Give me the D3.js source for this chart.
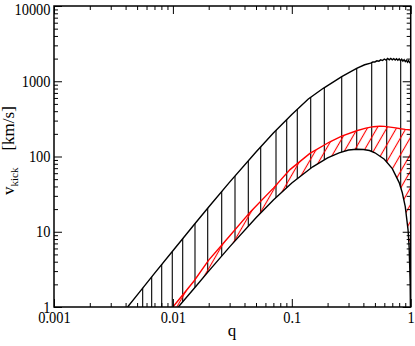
<!DOCTYPE html>
<html>
<head>
<meta charset="utf-8">
<script src="https://cdn.jsdelivr.net/npm/d3@7"></script>
<style>
  body { margin: 0; background: #fff; }
  svg { display: block; font-family: "Liberation Serif", "DejaVu Serif", serif; }
</style>
</head>
<body>
<svg id="chart" width="415" height="346"></svg>
<script>
// upper black curve (max kick)
const upperQ = [0.00416, 0.005, 0.007, 0.01, 0.015, 0.02, 0.03, 0.05, 0.07, 0.1, 0.1377, 0.184, 0.263, 0.351, 0.41,
  0.46, 0.48, 0.50, 0.52, 0.54, 0.56, 0.58, 0.60, 0.62, 0.64, 0.66, 0.68, 0.70, 0.72, 0.74, 0.76, 0.78,
  0.80, 0.82, 0.84, 0.86, 0.88, 0.90, 0.92, 0.94, 0.96, 0.98, 1.00];
const upperV = [1.0, 1.44, 2.8, 5.6, 12.3, 21.3, 45.7, 115, 205, 362, 581, 806, 1150, 1486, 1657,
  1745, 1800, 1805, 1870, 1850, 1925, 1885, 1975, 1915, 2005, 1925, 2010, 1930, 2000, 1915, 1995, 1900,
  1985, 1875, 1960, 1850, 1935, 1825, 1905, 1790, 1880, 1770, 1800];

// red curve
const redQ = [0.0100, 0.015, 0.02, 0.03, 0.045, 0.07, 0.0966, 0.142, 0.2094, 0.2629, 0.351, 0.42, 0.484, 0.55, 0.6, 0.67, 0.75, 0.82, 0.9, 1.0];
const redV = [1.0, 2.2, 4.2, 8.8, 18.5, 38, 67, 110, 157, 187, 220, 238, 249, 252, 251, 246, 240, 234, 229, 225];

// lower black curve (non-spinning kick)
const lowerQ = [0.0111, 0.015, 0.02, 0.03, 0.05, 0.07, 0.1, 0.15, 0.2, 0.25, 0.3, 0.35, 0.4, 0.45, 0.5, 0.6, 0.7, 0.8, 0.85, 0.9, 0.95, 0.97, 0.99, 0.995, 1.0];
const lowerV = [1.0, 1.75, 3.0, 6.3, 15.3, 26.4, 44.4, 73, 96, 112, 122, 125, 124, 120, 112, 92, 69, 45, 33, 21.6, 10.6, 6.3, 2.1, 1.04, 0.3];

// vertical hatch positions
const hatchQ = [0.00557, 0.00663, 0.00805, 0.00988, 0.01209, 0.01534, 0.01962, 0.02573, 0.03329, 0.04307, 0.05475,
  0.07365, 0.09061, 0.1112, 0.1442, 0.1877, 0.2629, 0.3515, 0.4699, 0.6284, 0.824];

const xTickVals = [0.001, 0.01, 0.1, 1];
const xTickLabels = ["0.001", "0.01", "0.1", "1"];
const yTickVals = [1, 10, 100, 1000, 10000];
const yTickLabels = ["1", "10", "100", "1000", "10000"];

const serif = "'Liberation Serif', 'DejaVu Serif', serif";
const svg = d3.select("#chart");
const x = d3.scaleLog().domain([0.001, 1]).range([54, 410.7]);
const y = d3.scaleLog().domain([1, 10000]).range([307, 6]).clamp(true);

const pts = (qs, vs) => qs.map((q, i) => [q, vs[i]]);
const upper = pts(upperQ, upperV);
const red = pts(redQ, redV);
const lower = pts(lowerQ, lowerV);
const line = d3.line().x(d => x(d[0])).y(d => y(d[1]));

const defs = svg.append("defs");
defs.append("clipPath").attr("id", "plotClip").append("rect")
  .attr("x", x(0.001)).attr("y", y(10000))
  .attr("width", x(1) - x(0.001)).attr("height", y(1) - y(10000));
defs.append("clipPath").attr("id", "bandClip").append("path")
  .attr("d", line(upper.concat(lower.slice().reverse())) + "Z");

const pat = defs.append("pattern").attr("id", "redHatch")
  .attr("patternUnits", "userSpaceOnUse")
  .attr("width", 8.4).attr("height", 8.4)
  .attr("patternTransform", "rotate(30)");
pat.append("line").attr("x1", 4.2).attr("x2", 4.2).attr("y1", -1).attr("y2", 9.4)
  .attr("stroke", "#ff0000").attr("stroke-width", 1.1);

const plot = svg.append("g").attr("clip-path", "url(#plotClip)");

// vertical hatch between the black curves
plot.append("g").attr("clip-path", "url(#bandClip)")
  .selectAll("line").data(hatchQ).join("line")
  .attr("x1", d => x(d)).attr("x2", d => x(d))
  .attr("y1", y(10000)).attr("y2", y(1))
  .attr("stroke", "#000").attr("stroke-width", 1.1);

// red hatched region
plot.append("path")
  .attr("d", line(red.concat(lower.slice().reverse())) + "Z")
  .attr("fill", "url(#redHatch)").attr("stroke", "none");

// curves
plot.append("path").datum(upper).attr("d", line)
  .attr("fill", "none").attr("stroke", "#000").attr("stroke-width", 1.4);
plot.append("path").datum(red).attr("d", line)
  .attr("fill", "none").attr("stroke", "#ff0000").attr("stroke-width", 1.4);
plot.append("path").datum(lower).attr("d", line)
  .attr("fill", "none").attr("stroke", "#000").attr("stroke-width", 1.4);

// axes (ticks inside)
const isMajor = t => Math.abs(Math.log10(t) - Math.round(Math.log10(t))) < 1e-6;
const xMinor = x.ticks().filter(t => !isMajor(t));
const yMinor = y.ticks().filter(t => !isMajor(t));

function styleAxis(g) {
  g.attr("font-family", null).attr("font-size", null)
    .style("font-family", serif).style("font-size", "16px");
  g.select(".domain").remove();
}

svg.append("g").attr("transform", `translate(0,${y(1)})`)
  .call(d3.axisBottom(x).tickValues(xMinor).tickSizeInner(-4).tickSizeOuter(0).tickFormat(""))
  .call(styleAxis);
svg.append("g").attr("transform", `translate(0,${y(1)})`)
  .call(d3.axisBottom(x).tickValues(xTickVals).tickSizeInner(-8).tickSizeOuter(0).tickPadding(4.5)
    .tickFormat((d, i) => xTickLabels[i]))
  .call(styleAxis)
  .call(g => g.selectAll("text").attr("fill", "#000").attr("transform", "scale(0.9,1)"));

svg.append("g").attr("transform", `translate(0,${y(10000)})`)
  .call(d3.axisTop(x).tickValues(xMinor).tickSizeInner(-4).tickSizeOuter(0).tickFormat(""))
  .call(styleAxis);
svg.append("g").attr("transform", `translate(0,${y(10000)})`)
  .call(d3.axisTop(x).tickValues(xTickVals).tickSizeInner(-8).tickSizeOuter(0).tickFormat(""))
  .call(styleAxis);

svg.append("g").attr("transform", `translate(${x(0.001)},0)`)
  .call(d3.axisLeft(y).tickValues(yMinor).tickSizeInner(-4).tickSizeOuter(0).tickFormat(""))
  .call(styleAxis);
svg.append("g").attr("transform", `translate(${x(0.001)},0)`)
  .call(d3.axisLeft(y).tickValues(yTickVals).tickSizeInner(-8).tickSizeOuter(0).tickPadding(3.9)
    .tickFormat((d, i) => yTickLabels[i]))
  .call(styleAxis)
  .call(g => g.selectAll("text").attr("fill", "#000").attr("transform", "scale(0.9,1)")
    .filter(d => d === 10000).attr("dy", "0.55em"));

svg.append("g").attr("transform", `translate(${x(1)},0)`)
  .call(d3.axisRight(y).tickValues(yMinor).tickSizeInner(-4).tickSizeOuter(0).tickFormat(""))
  .call(styleAxis);
svg.append("g").attr("transform", `translate(${x(1)},0)`)
  .call(d3.axisRight(y).tickValues(yTickVals).tickSizeInner(-8).tickSizeOuter(0).tickFormat(""))
  .call(styleAxis);

// frame
svg.append("rect")
  .attr("x", x(0.001)).attr("y", y(10000))
  .attr("width", x(1) - x(0.001)).attr("height", y(1) - y(10000))
  .attr("fill", "none").attr("stroke", "#000").attr("stroke-width", 1.5);

// axis titles
svg.append("text").attr("x", 232).attr("y", 336).attr("text-anchor", "middle")
  .style("font-family", serif).style("font-size", "17px").text("q");

const yt = svg.append("text").attr("transform", "translate(14,195) rotate(-90)")
  .style("font-family", serif).style("font-size", "17px");
yt.append("tspan").text("v");
yt.append("tspan").style("font-size", "11px").attr("dy", 4).text("kick");
yt.append("tspan").attr("dy", -4).attr("dx", 17).text("[km/s]");
</script>
</body>
</html>
